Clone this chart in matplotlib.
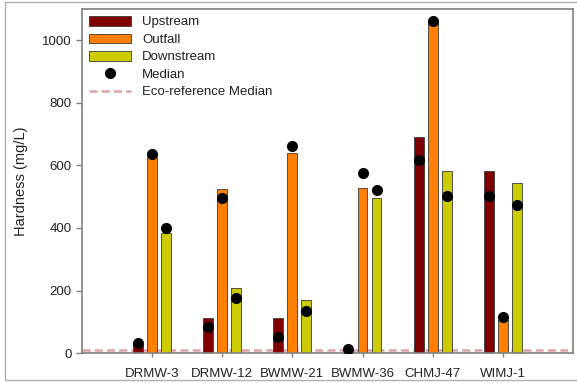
import matplotlib
matplotlib.use("Agg")
import matplotlib.pyplot as plt
from matplotlib.patches import Rectangle
from matplotlib.lines import Line2D
import numpy as np

plt.rcParams['font.family'] = ['Liberation Sans', 'DejaVu Sans']

sites = ["DRMW-3", "DRMW-12", "BWMW-21", "BWMW-36", "CHMJ-47", "WIMJ-1"]
upstream = [25, 111, 112, 6, 690, 583]
outfall = [628, 524, 640, 528, 1055, 106]
downstream = [384, 207, 170, 496, 583, 544]
upstream_median = [32, 84, 52, 12, 616, 501]
outfall_median = [635, 496, 663, 576, 1060, 116]
downstream_median = [400, 175, 136, 522, 501, 472]
eco_reference_median = 10

c_up = "#800000"
c_out = "#ff8000"
c_down = "#cccc00"
c_eco = "#dca4aa"
eco_dash = (0, (3.2, 1.7))

fig = plt.figure(figsize=(5.77, 3.83), dpi=100)
ax = fig.add_axes([0.142, 0.078, 0.851, 0.899])

x = np.arange(1, len(sites) + 1)
off = 0.2
w = 0.14
edge = dict(edgecolor="#3a3a3a", linewidth=0.6, zorder=2)
ax.bar(x - off, upstream, w, color=c_up, **edge)
ax.bar(x, outfall, w, color=c_out, **edge)
ax.bar(x + off, downstream, w, color=c_down, **edge)

ax.axhline(eco_reference_median, color=c_eco, lw=1.8, ls=eco_dash, zorder=1.5)

mk = dict(marker="o", color="black", ms=7, ls="none", zorder=4)
ax.plot(x - off, upstream_median, **mk)
ax.plot(x, outfall_median, **mk)
ax.plot(x + off, downstream_median, **mk)

ax.set_xlim(0, 7)
ax.set_ylim(0, 1100)
ax.set_xticks(x)
ax.set_xticklabels(sites)
ax.set_yticks([0, 200, 400, 600, 800, 1000])
ax.tick_params(axis="both", direction="out", colors="#808080", labelcolor="#222222",
               labelsize=9.5, length=4, width=1)
ax.tick_params(axis="x", length=3, pad=8)
for s in ax.spines.values():
    s.set_color("#808080")
    s.set_linewidth(1.2)
ax.set_ylabel("Hardness (mg/L)", fontsize=10.5, color="#222222", labelpad=10)

handles = [
    Rectangle((0, 0), 1, 1, facecolor=c_up, edgecolor="#3a3a3a", linewidth=0.6),
    Rectangle((0, 0), 1, 1, facecolor=c_out, edgecolor="#3a3a3a", linewidth=0.6),
    Rectangle((0, 0), 1, 1, facecolor=c_down, edgecolor="#3a3a3a", linewidth=0.6),
    Line2D([], [], marker="o", color="black", ms=7, ls="none"),
    Line2D([], [], color=c_eco, lw=1.8, ls=eco_dash),
]
labels = ["Upstream", "Outfall", "Downstream", "Median", "Eco-reference Median"]
leg = ax.legend(handles, labels, loc="upper left", frameon=False, fontsize=9.5,
                handlelength=3.2, handleheight=0.75, labelspacing=0.38,
                handletextpad=0.8, borderaxespad=0.3, borderpad=0.25)
for t in leg.get_texts():
    t.set_color("#222222")

# thin outer border around the figure
fig.patches.append(Rectangle((5 / 577, 3 / 383), 1.1, 378 / 383, transform=fig.transFigure,
                             fill=False, edgecolor="#b0b0b0", linewidth=1.0))

fig.savefig("out.png", dpi=100)
